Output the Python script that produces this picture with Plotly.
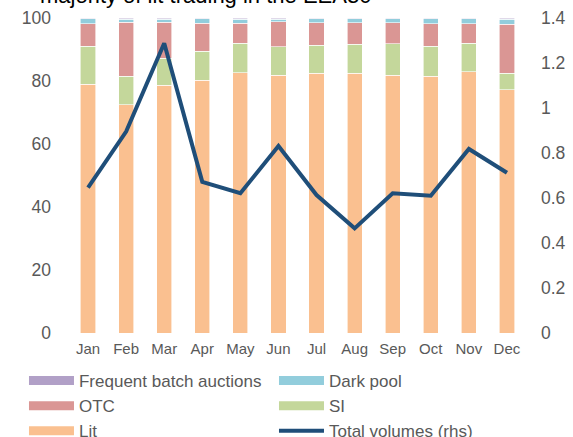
import plotly.graph_objects as go

months = ["Jan", "Feb", "Mar", "Apr", "May", "Jun", "Jul", "Aug", "Sep", "Oct", "Nov", "Dec"]
lit = [79.0, 72.5, 78.6, 80.2, 82.6, 81.8, 82.4, 82.4, 81.8, 81.5, 83.0, 77.2]
si = [12.1, 9.0, 8.6, 9.3, 9.4, 9.0, 9.0, 9.3, 10.0, 9.5, 9.0, 5.2]
otc = [7.0, 17.1, 11.4, 8.9, 6.4, 8.0, 7.1, 6.8, 6.7, 7.1, 6.2, 15.6]
dark_pool = [1.6, 1.0, 1.0, 1.3, 1.2, 0.8, 1.2, 1.2, 1.2, 1.6, 1.5, 1.6]
fba = [0.3, 0.4, 0.4, 0.3, 0.4, 0.4, 0.3, 0.3, 0.3, 0.3, 0.3, 0.4]
total_volumes = [0.646, 0.895, 1.288, 0.672, 0.621, 0.831, 0.613, 0.465, 0.621, 0.610, 0.818, 0.712]

left_ticks = [0, 20, 40, 60, 80, 100]
right_ticks = [0, 0.2, 0.4, 0.6, 0.8, 1, 1.2, 1.4]
right_tick_labels = ["0", "0.2", "0.4", "0.6", "0.8", "1", "1.2", "1.4"]

title_text = "majority of lit trading in the EEA30"

C_LIT = "#FAC090"
C_SI = "#C4D79B"
C_OTC = "#DA9694"
C_DARK = "#92CDDC"
C_FBA = "#B1A0C7"
C_LINE = "#1F4E79"
GREY = "#595959"
FONT = "Liberation Sans, Arial, sans-serif"

fig = go.Figure()
series = [("Lit", lit, C_LIT, 5), ("SI", si, C_SI, 4), ("OTC", otc, C_OTC, 3),
          ("Dark pool", dark_pool, C_DARK, 2), ("Frequent batch auctions", fba, C_FBA, 1)]
for name, vals, col, rank in series:
    fig.add_trace(go.Bar(x=months, y=vals, name=name, marker=dict(color=col, line=dict(color="white", width=0.6)),
                         showlegend=False))
    fig.add_trace(go.Scatter(x=[None], y=[None], mode="lines", name=name,
                             line=dict(color=col, width=9), legendrank=rank))

fig.add_trace(go.Scatter(x=months, y=total_volumes, mode="lines", name="Total volumes (rhs)",
                         line=dict(color=C_LINE, width=4), yaxis="y2", legendrank=6))

fig.update_layout(
    width=573, height=437,
    margin=dict(l=69, r=47, t=18, b=104, autoexpand=False),
    paper_bgcolor="white", plot_bgcolor="white",
    barmode="stack", bargap=0.6,
    font=dict(family=FONT, color=GREY),
    xaxis=dict(showgrid=False, showline=False, ticks="", tickfont=dict(size=15, color=GREY),
               ticklabelstandoff=5),
    yaxis=dict(range=[0, 100], tickvals=left_ticks, showgrid=False, zeroline=False, showline=False,
               tickfont=dict(size=17.5, color=GREY), ticklabelstandoff=17),
    yaxis2=dict(range=[0, 1.4], tickvals=right_ticks, ticktext=right_tick_labels, overlaying="y",
                side="right", showgrid=False, zeroline=False, showline=False,
                tickfont=dict(size=17.5, color=GREY), ticklabelstandoff=14),
    legend=dict(orientation="h", x=-0.0985, xanchor="left", y=-0.0952, yanchor="top",
                traceorder="normal", entrywidth=190, entrywidthmode="pixels",
                font=dict(size=17, color=GREY), tracegroupgap=0, itemwidth=45,
                bgcolor="rgba(0,0,0,0)"),
    annotations=[dict(text=title_text, xref="paper", yref="paper", x=-0.068, xanchor="left",
                      y=1.025, yanchor="bottom", showarrow=False,
                      font=dict(size=22, color="black", family=FONT))],
)

# remove the default 8px page margin so the figure fills the window exactly
fig.write_html("out.html", config={"displayModeBar": False},
               post_script="document.body.style.margin='0px';")
